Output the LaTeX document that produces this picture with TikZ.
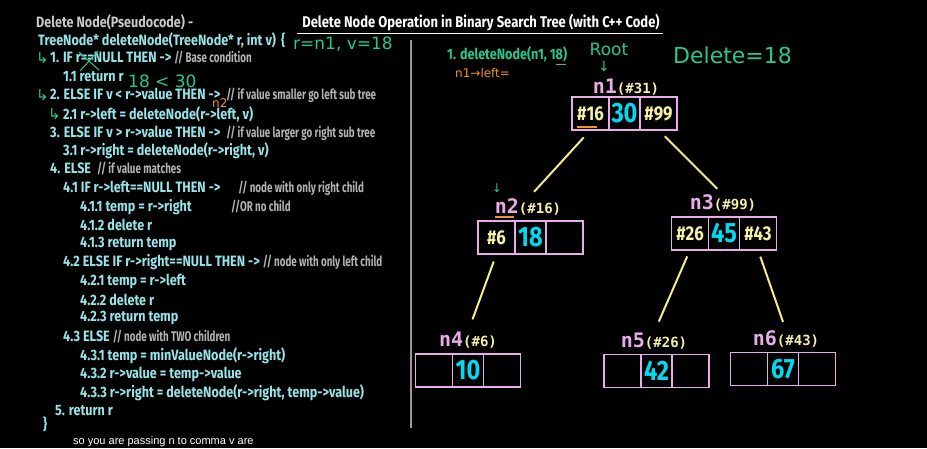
\documentclass[tikz,border=0pt]{standalone}
\usepackage{fontspec}
\newfontfamily\codefont{Fira Sans}[FakeStretch=0.84]
\newfontfamily\cmtfont{Fira Sans}[FakeStretch=0.70]
\newfontfamily\lblfont{DejaVu Sans Mono}
\newfontfamily\handfont{DejaVu Sans}
\newfontfamily\subfont{Liberation Sans}
\usetikzlibrary{positioning}

\definecolor{codec}{RGB}{150,228,232}
\definecolor{cmtc}{RGB}{178,178,178}
\definecolor{headc}{RGB}{200,200,200}
\definecolor{pinkc}{RGB}{232,172,232}
\definecolor{hexc}{RGB}{245,240,165}
\definecolor{valc}{RGB}{0,218,240}
\definecolor{edgec}{RGB}{245,235,140}
\definecolor{handg}{RGB}{40,200,140}
\definecolor{hando}{RGB}{240,150,40}

\newcommand\cmt[1]{{\cmtfont\bfseries\fontsize{14}{16}\selectfont\textcolor{cmtc}{#1}}}

\begin{document}
\begin{tikzpicture}[x=1pt, y=-1pt,
        code/.style={anchor=west, inner sep=0pt, text=codec,
                     font=\codefont\bfseries\fontsize{15}{17}\selectfont},
        cell/.style={draw=pinkc, line width=1.3pt, outer sep=0pt, inner sep=0pt,
                     minimum width=37pt, minimum height=33pt, text=hexc,
                     font=\codefont\bfseries\fontsize{20}{20}\selectfont},
        vcell/.style={cell, minimum width=31pt, text=valc,
                      font=\codefont\bfseries\fontsize{28}{28}\selectfont},
        lbl/.style={inner sep=0pt, font=\lblfont\bfseries},
        edge/.style={draw=edgec, line width=2pt},
        hand/.style={inner sep=0pt, text=handg, font=\handfont\fontsize{17}{17}\selectfont},
        handline/.style={draw=handg, line width=1pt, line cap=round}
    ]
        \fill[black] (0,0) rectangle (927,448);
        \useasboundingbox (0,0) rectangle (927,448);

        % title and separator
        \node[inner sep=0pt, text=white, font=\codefont\bfseries\fontsize{15.5}{17}\selectfont]
            (title) at (481,23) {Delete Node Operation in Binary Search Tree (with C++ Code)};
        \draw[white, line width=1pt] ([shift={(-5,2)}]title.south west) -- ([shift={(3,2)}]title.south east);
        \draw[gray!80, line width=1.2pt] (411,40) -- (411,428);

        % pseudocode
        \node[code, text=headc] (c0) at (36,22) {Delete Node(Pseudocode) -};
        \node[code] (c1) at (38,40) {TreeNode* deleteNode(TreeNode* r, int v)\hspace{5pt}\{};
        \node[code] (c2) at (50,58) {1. IF r==NULL THEN -> \cmt{// Base condition}};
        \node[code] (c3) at (63,77) {1.1 return r};
        \node[code] (c4) at (50,95) {2. ELSE IF v < r->value THEN -> \ \cmt{// if value smaller go left sub tree}};
        \node[code] (c5) at (63,114) {2.1 r->left = deleteNode(r->left, v)};
        \node[code] (c6) at (50,133) {3. ELSE IF v > r->value THEN -> \ \cmt{// if value larger go right sub tree}};
        \node[code] (c7) at (63,151) {3.1 r->right = deleteNode(r->right, v)};
        \node[code] (c8) at (50,169) {4. ELSE \ \cmt{// if value matches}};
        \node[code] (c9) at (63,188) {4.1 IF r->left==NULL THEN -> \quad\cmt{// node with only right child}};
        \node[code] (c10) at (80,207) {4.1.1 temp = r->right};
        \node[code] (c10c) at (231,207) {\cmt{//OR no child}};
        \node[code] (c11) at (80,225) {4.1.2 delete r};
        \node[code] (c12) at (80,244) {4.1.3 return temp};
        \node[code] (c13) at (63,262) {4.2 ELSE IF r->right==NULL THEN -> \cmt{// node with only left child}};
        \node[code] (c14) at (80,281) {4.2.1 temp = r->left};
        \node[code] (c15) at (80,300) {4.2.2 delete r};
        \node[code] (c16) at (80,318) {4.2.3 return temp};
        \node[code] (c17) at (63,337) {4.3 ELSE \cmt{// node with TWO children}};
        \node[code] (c18) at (80,356) {4.3.1 temp = minValueNode(r->right)};
        \node[code] (c19) at (80,374) {4.3.2 r->value = temp->value};
        \node[code] (c20) at (80,393) {4.3.3 r->right = deleteNode(r->right, temp->value)};
        \node[code] (c21) at (55,411) {5. return r};
        \node[code] (c22) at (43,424) {\}};
        \node[anchor=west, inner sep=0pt, text=white, font=\subfont\fontsize{11}{11}\selectfont]
            (sub) at (73,442) {so you are passing n to comma v are};

        % notes on the code
        \node[hand, anchor=west] (h1) at (293,44) {r=n1, v=18};
        \node[hand, anchor=west] (h2) at (128,81) {18 < 30};
        \node[hand, anchor=west, text=hando, font=\handfont\fontsize{12}{12}\selectfont] (h3) at (212,103) {n2};
        \node[hand, anchor=west, font=\handfont\fontsize{15}{15}\selectfont] (k1) at (36,58) {↳};
        \node[hand, anchor=west, font=\handfont\fontsize{15}{15}\selectfont] (k2) at (36,95) {↳};
        \node[hand, anchor=west, font=\handfont\fontsize{15}{15}\selectfont] (k3) at (48,114) {↳};
        \draw[handline] (79,52) -- (99,70);
        \draw[handline] (80,71) -- (98,51);

        % call notes
        \node[code, text=handg] (call) at (447,54) {1. deleteNode(n1, 18)};
        \draw[handg, line width=1pt] (556,64) -- (566,64);
        \node[hand, anchor=west, text=hando, font=\handfont\fontsize{12}{12}\selectfont] (h4) at (455,73) {n1→left=};
        \node[hand] (root) at (609,49) {Root};
        \node[hand, font=\handfont\fontsize{14}{14}\selectfont] (rarr) at (604,66) {↓};
        \node[hand, anchor=west, font=\handfont\fontsize{22}{22}\selectfont] (del) at (673,55) {Delete=18};

        % tree nodes
        \node[lbl] (lb1) at (626,87) {\textcolor{pinkc}{\fontsize{20}{20}\selectfont n1}\textcolor{hexc}{\fontsize{14}{14}\selectfont(\#31)}};
        \node[vcell] (n1v) at (624.5,113.5) {30};
        \node[cell, left=0pt of n1v] (n1l) {\#16};
        \node[cell, right=0pt of n1v] (n1r) {\#99};
        \draw[hando, line width=1.5pt] (577,127) -- (597,127);

        \node[hand, font=\handfont\fontsize{12}{12}\selectfont] (n2arr) at (497,188) {↓};
        \node[lbl] (lb2) at (528,207) {\textcolor{pinkc}{\fontsize{20}{20}\selectfont n2}\textcolor{hexc}{\fontsize{14}{14}\selectfont(\#16)}};
        \draw[hando, line width=1.2pt] (495,217) -- (514,217);
        \node[vcell] (n2v) at (530.5,237.5) {18};
        \node[cell, left=0pt of n2v] (n2l) {\#6};
        \node[cell, right=0pt of n2v] (n2r) {};

        \node[lbl] (lb3) at (723,203) {\textcolor{pinkc}{\fontsize{20}{20}\selectfont n3}\textcolor{hexc}{\fontsize{14}{14}\selectfont(\#99)}};
        \node[vcell] (n3v) at (724,233.5) {45};
        \node[cell, left=0pt of n3v] (n3l) {\#26};
        \node[cell, right=0pt of n3v] (n3r) {\#43};

        \node[lbl] (lb4) at (468,340) {\textcolor{pinkc}{\fontsize{20}{20}\selectfont n4}\textcolor{hexc}{\fontsize{14}{14}\selectfont(\#6)}};
        \node[vcell] (n4v) at (468,370.5) {10};
        \node[cell, left=0pt of n4v] (n4l) {};
        \node[cell, right=0pt of n4v] (n4r) {};

        \node[lbl] (lb5) at (654,341) {\textcolor{pinkc}{\fontsize{20}{20}\selectfont n5}\textcolor{hexc}{\fontsize{14}{14}\selectfont(\#26)}};
        \node[vcell] (n5v) at (656.5,371) {42};
        \node[cell, left=0pt of n5v] (n5l) {};
        \node[cell, right=0pt of n5v] (n5r) {};

        \node[lbl] (lb6) at (786,339) {\textcolor{pinkc}{\fontsize{20}{20}\selectfont n6}\textcolor{hexc}{\fontsize{14}{14}\selectfont(\#43)}};
        \node[vcell] (n6v) at (783,369) {67};
        \node[cell, left=0pt of n6v] (n6l) {};
        \node[cell, right=0pt of n6v] (n6r) {};

        % links
        \draw[edge, shorten <=10pt, shorten >=9pt] (n1l.south) -- (lb2.north);
        \draw[edge, shorten <=9pt, shorten >=8pt] (n1r.south) -- (lb3.north);
        \draw[edge, shorten <=8pt, shorten >=13pt] (n2l.south) -- (lb4.north);
        \draw[edge, shorten <=7pt, shorten >=12pt] (n3l.south) -- (lb5.north);
        \draw[edge, shorten <=7pt, shorten >=9pt] (n3r.south) -- (lb6.north);
    \end{tikzpicture}
\end{document}
